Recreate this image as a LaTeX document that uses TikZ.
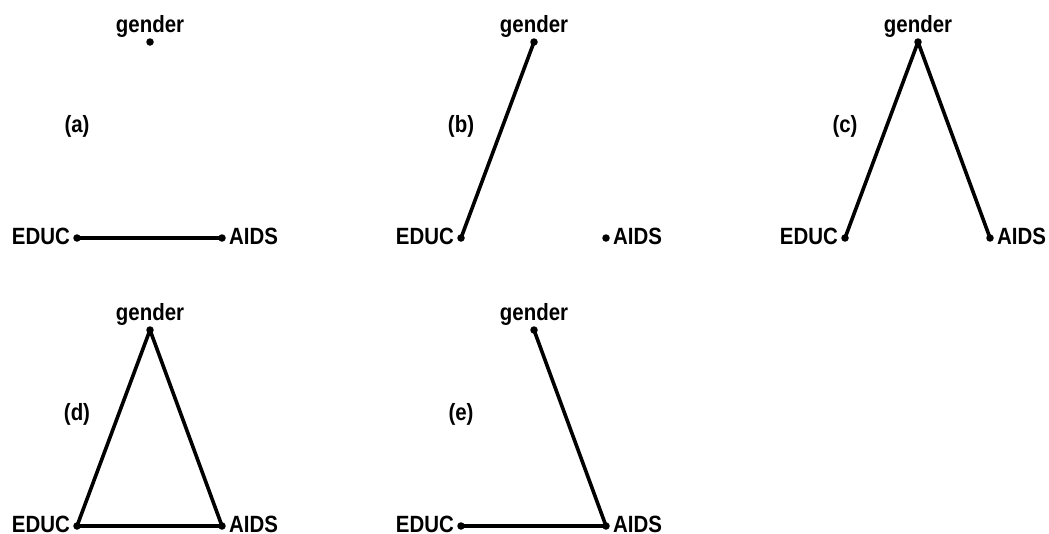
\documentclass[tikz,border=0pt]{standalone}
\usepackage{fontspec}
\newfontfamily\labfont[FakeStretch=0.87]{Liberation Sans}
\tikzset{
  dotnode/.style={circle,fill=black,draw=none,minimum size=7.5pt,inner sep=0pt},
  lab/.style={font=\labfont\bfseries\fontsize{23.5}{26}\selectfont,inner sep=0pt},
  edge/.style={line width=3.6pt,line cap=round,shorten <=-2pt,shorten >=-2pt}
}
\newcommand\mypanel[4]{%
  \begin{scope}[shift={(#2,#3)}]
    \node[dotnode] (#1g) at (150,42) {};
    \node[dotnode] (#1e) at (77,238) {};
    \node[dotnode] (#1a) at (222,238) {};
    \node[lab,anchor=base] (#1gl) at (150,32) {gender};
    \node[lab,anchor=base east] (#1el) at (70,244.5) {EDUC};
    \node[lab,anchor=base west] (#1al) at (229,244.5) {AIDS};
    \node[lab] (#1p) at (77,126) {(#4)};
  \end{scope}}
\begin{document}
\begin{tikzpicture}[x=1pt,y=-1pt]
\useasboundingbox (0,0) rectangle (1049,533);
\mypanel{a}{0}{0}{a}
\mypanel{b}{384}{0}{b}
\mypanel{c}{768}{0}{c}
\mypanel{d}{0}{288}{d}
\mypanel{e}{384}{288}{e}
\draw[edge] (ae) -- (aa);
\draw[edge] (bg) -- (be);
\draw[edge] (cg) -- (ce);
\draw[edge] (cg) -- (ca);
\draw[edge] (dg) -- (de);
\draw[edge] (dg) -- (da);
\draw[edge] (de) -- (da);
\draw[edge] (eg) -- (ea);
\draw[edge] (ee) -- (ea);
\end{tikzpicture}
\end{document}
